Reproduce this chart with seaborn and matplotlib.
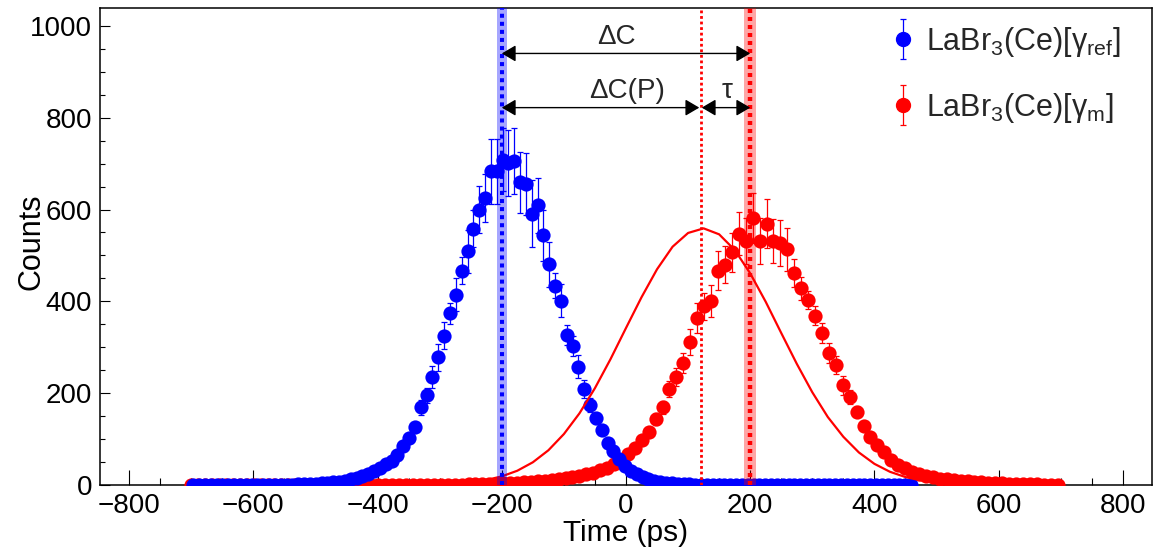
import numpy as np
import pandas as pd
import matplotlib
matplotlib.use("Agg")
import matplotlib.pyplot as plt
from matplotlib.container import ErrorbarContainer
from matplotlib.legend_handler import HandlerErrorbar
from matplotlib.ticker import MultipleLocator
import seaborn as sns

# ---------------- data ----------------
blue_start, blue_step = -697.0, 9.4      # LaBr3(Ce)[gamma_ref] bin grid (ps)
red_start, red_step = -700.0, 11.16      # LaBr3(Ce)[gamma_m] bin grid (ps)

blue_counts = [
    0, 0, 0, 0, 0, 0, 0, 0, 0, 0, 0, 0, 0, 0, 0,
    1, 1, 1, 2, 2, 3, 3, 4, 5, 6, 7, 9, 12, 15, 19,
    24, 30, 38, 45, 52, 66, 85, 102, 127, 169,
    195, 236, 278, 325, 374, 414, 467, 509, 558, 600,
    625, 683, 683, 709, 701, 705, 659, 656, 591, 609,
    544, 481, 434, 401, 327, 302, 258, 209, 174, 145,
    120, 91, 73, 56, 42, 31, 23, 17, 12, 9,
    7, 5, 4, 3, 2, 2, 1, 1, 1, 0,
] + [0] * 34

blue_err = [
    0, 0, 0, 0, 0, 0, 0, 0, 0, 0, 0, 0, 0, 0, 0,
    1, 1, 1, 1.4, 1.4, 1.7, 1.7, 2, 2.2, 2.5, 2.6, 3, 3.5, 4, 4.5,
    5, 5.5, 6, 7, 7, 8, 9, 10, 11, 16,
    17, 24, 29, 29, 23, 36, 29, 47, 40, 52,
    53, 71, 70, 68, 72, 72, 67, 67, 73, 60,
    56, 49, 27, 36, 22, 22, 25, 20, 15, 12,
    11, 9, 8, 7, 6, 5, 4.5, 4, 3.5, 3,
    2.6, 2.2, 2, 1.7, 1.4, 1.4, 1, 1, 1, 0,
] + [0] * 34

red_counts = [0] * 36 + [
    1, 1, 1, 1, 2, 2, 2, 3, 3, 4,
    4, 5, 6, 7, 8, 9, 11, 13, 15, 17,
    20, 23, 27, 32, 38, 46, 55, 67, 80, 97,
    116, 143, 169, 209, 235, 265, 311, 364, 389, 400,
    467, 480, 507, 547, 531, 582, 531, 569, 532, 527,
    513, 462, 429, 403, 369, 331, 287, 262, 217, 191,
    160, 129, 105, 87, 71, 55, 44, 36, 29, 24,
    20, 17, 14, 12, 10, 9, 8, 7, 6, 5,
    4, 4, 3, 3, 2, 2, 2, 1, 1, 1,
]

red_err = [0] * 36 + [
    1, 1, 1, 1, 1.4, 1.4, 1.4, 1.7, 1.7, 2,
    2, 2.2, 2.5, 2.6, 2.8, 3, 3.3, 3.6, 3.9, 4.1,
    4.5, 4.8, 5.2, 5.7, 6.2, 6.8, 7.4, 8, 9, 10,
    11, 13, 15, 18, 20, 22, 28, 32, 30, 35,
    43, 40, 42, 47, 50, 55, 50, 53, 48, 50,
    47, 30, 25, 20, 20, 22, 22, 20, 20, 15,
    12, 10, 9, 8, 7.5, 6.5, 6, 5.5, 5, 4.5,
    4.2, 3.8, 3.5, 3.2, 3, 2.8, 2.6, 2.4, 2.2, 2,
    1.8, 1.8, 1.6, 1.6, 1.4, 1.4, 1.4, 1, 1, 1,
]

# prompt response curve (red solid line)
fit_time = list(range(-375, 601, 25))
fit_counts = [0.2, 0.4, 0.8, 1.7, 3.2, 6.1, 10.9, 18.8, 31.1, 49.5,
              75.6, 111, 156, 211, 274, 342, 409, 470, 519, 549,
              559, 546, 512, 461, 399, 331, 264, 202, 148, 105,
              70.9, 46.1, 28.8, 17.3, 9.9, 5.5, 2.9, 1.5, 0.7, 0.3]

ref_centroid = -200      # centroid of gamma_ref
meas_centroid = 200      # centroid of gamma_m
prompt_centroid = 120    # centroid of prompt response
ref_unc = 8
meas_unc = 10

x_ticks = [-800, -600, -400, -200, 0, 200, 400, 600, 800]
y_ticks = [0, 200, 400, 600, 800, 1000]
label_ref = r"LaBr$_{3}$(Ce)[γ$_{\mathregular{ref}}$]"
label_m = r"LaBr$_{3}$(Ce)[γ$_{\mathregular{m}}$]"

# ---------------- style ----------------
sns.set_theme(style="ticks")
plt.rcParams['font.family'] = ['Liberation Sans', 'DejaVu Sans']
plt.rcParams['mathtext.fontset'] = 'custom'
plt.rcParams['mathtext.rm'] = 'Liberation Sans'
plt.rcParams['mathtext.it'] = 'Liberation Sans:italic'
plt.rcParams['mathtext.bf'] = 'Liberation Sans:bold'
plt.rcParams['axes.unicode_minus'] = True

W, H = 1153, 550
fig = plt.figure(figsize=(W / 100, H / 100), dpi=100)
ax = fig.add_axes([100 / W, 1 - 485 / H, 1052 / W, 477 / H])

blue_time = blue_start + blue_step * np.arange(len(blue_counts))
red_time = red_start + red_step * np.arange(len(red_counts))
df_blue = pd.DataFrame({"time": blue_time, "counts": blue_counts, "err": blue_err})
df_red = pd.DataFrame({"time": red_time, "counts": red_counts, "err": red_err})

eb_kw = dict(fmt='none', elinewidth=0.9, capsize=2.5, capthick=0.9)
ax.errorbar(df_red.time, df_red.counts, yerr=df_red.err, ecolor='#ff0000', zorder=2, **eb_kw)
sns.scatterplot(data=df_red, x="time", y="counts", color='#ff0000', s=105,
                linewidth=0, ax=ax, zorder=3, legend=False)
ax.errorbar(df_blue.time, df_blue.counts, yerr=df_blue.err, ecolor='#0000ff', zorder=4, **eb_kw)
sns.scatterplot(data=df_blue, x="time", y="counts", color='#0000ff', s=105,
                linewidth=0, ax=ax, zorder=5, legend=False)
sns.lineplot(x=fit_time, y=fit_counts, color='#ff0000', lw=1.6, ax=ax, zorder=6)

# centroid bands and lines
ax.axvspan(ref_centroid - ref_unc, ref_centroid + ref_unc, color='#0000ff', alpha=0.35, lw=0, zorder=7)
ax.axvspan(meas_centroid - meas_unc, meas_centroid + meas_unc, color='#ff0000', alpha=0.35, lw=0, zorder=7)
ax.axvline(ref_centroid, color='#0000ff', lw=2.9, dashes=(1, 1), zorder=8)
ax.axvline(meas_centroid, color='#ff0000', lw=3.2, dashes=(0.9, 0.9), zorder=8)
ax.axvline(prompt_centroid, color='#ff0000', lw=2.0, dashes=(1, 1), zorder=8)

# arrows
arr = dict(arrowstyle='<|-|>,head_length=0.85,head_width=0.5', color='black',
           lw=1.0, shrinkA=0, shrinkB=0, mutation_scale=10)
ax.annotate('', xy=(ref_centroid, 940), xytext=(meas_centroid, 940), arrowprops=arr, zorder=9)
ax.annotate('', xy=(ref_centroid, 822), xytext=(prompt_centroid - 2, 822), arrowprops=arr, zorder=9)
ax.annotate('', xy=(prompt_centroid + 2, 822), xytext=(meas_centroid, 822), arrowprops=arr, zorder=9)
ax.text(-15, 961, 'ΔC', ha='center', va='baseline', fontsize=20, zorder=9)
ax.text(2, 843, 'ΔC(P)', ha='center', va='baseline', fontsize=20, zorder=9)
ax.text(163, 843, 'τ', ha='center', va='baseline', fontsize=20, zorder=9)

# axes
ax.set_xlim(-847, 847)
ax.set_ylim(0, 1039)
ax.set_xticks(x_ticks)
ax.set_yticks(y_ticks)
ax.xaxis.set_minor_locator(MultipleLocator(50))
ax.yaxis.set_minor_locator(MultipleLocator(50))
ax.tick_params(axis='x', which='major', direction='in', length=10.8, width=0.8,
               labelsize=20, pad=6, colors='black', top=False, bottom=True)
ax.tick_params(axis='x', which='minor', direction='in', length=5, width=0.8,
               top=False, bottom=True, colors='black')
ax.tick_params(axis='y', which='major', direction='in', length=7.2, width=0.8,
               labelsize=20, pad=5.5, colors='black', right=False, left=True)
ax.tick_params(axis='y', which='minor', direction='in', length=3.6, width=0.8,
               right=False, left=True, colors='black')
for sp in ax.spines.values():
    sp.set_visible(True)
    sp.set_color('black')
    sp.set_linewidth(1.1)

ax.set_xlabel('Time (ps)', fontsize=21.5, color='black')
ax.set_ylabel('Counts', fontsize=22, color='black')
ax.xaxis.set_label_coords(0.5, -0.071)
ax.yaxis.set_label_coords(-0.051, 0.51)

# legend
hb = ax.errorbar([np.nan], [np.nan], yerr=[1], fmt='o', color='#0000ff', ms=10,
                 capsize=2.5, elinewidth=0.9, capthick=0.9)
hr = ax.errorbar([np.nan], [np.nan], yerr=[1], fmt='o', color='#ff0000', ms=10,
                 capsize=2.5, elinewidth=0.9, capthick=0.9)
ax.legend(handles=[hb, hr], labels=[label_ref, label_m], loc='upper left',
          bbox_to_anchor=(0.752, 0.965), frameon=False, fontsize=22,
          handlelength=0.8, handletextpad=0.33, labelspacing=1.05,
          borderpad=0, borderaxespad=0,
          handler_map={ErrorbarContainer: HandlerErrorbar(yerr_size=0.65)})

fig.savefig("out.png", dpi=100)
